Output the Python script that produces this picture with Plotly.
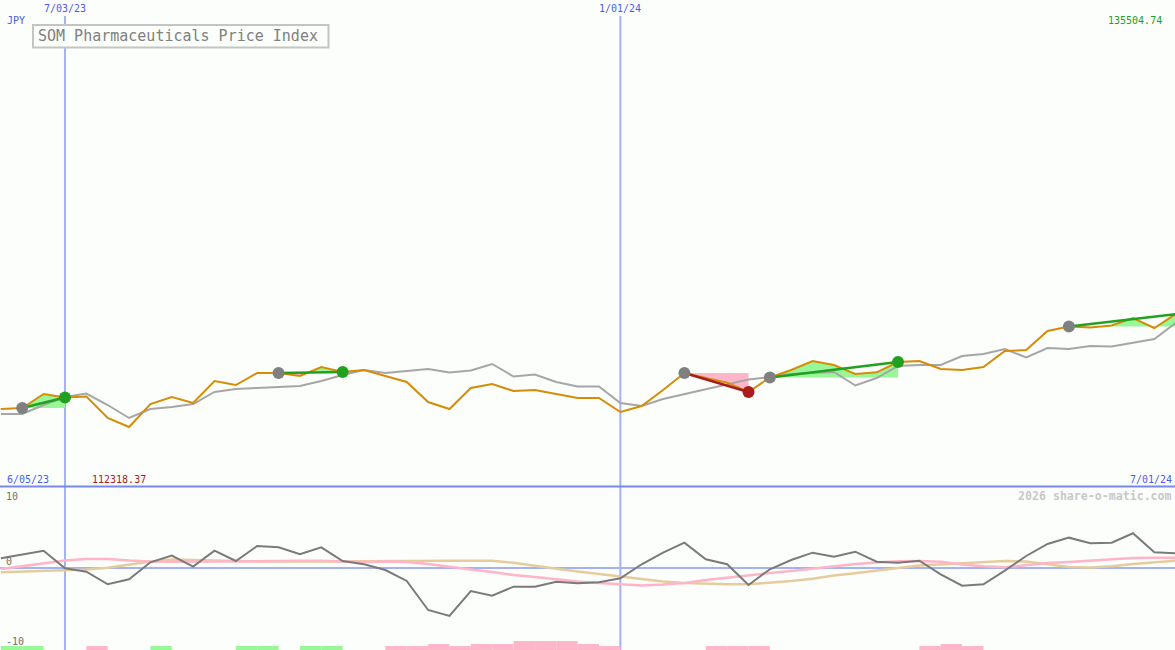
import plotly.graph_objects as go
import pandas as pd

# ---------------- data ----------------
week_start = "2023-06-12"
n_weeks = 56
dates = pd.date_range(week_start, periods=n_weeks, freq="7D")

price = [116016, 116221, 119096, 118377, 118582, 114168, 112318.37, 117043, 118480, 117248,
         121766, 120944, 123409, 123409, 122793, 124641, 123614, 124025, 122793, 121560,
         117454, 116016, 120328, 121150, 119712, 119918, 119096, 118275, 118275, 115400,
         116632, 119918, 123409, 122444, 121417, 119507, 122485, 124025, 125873, 125051,
         123203, 123553, 125667, 125873, 124230, 124025, 124641, 127926, 128131, 132033,
         132957, 132752, 133163, 134703, 132649, 135504.74]

trend = [114990, 114990, 116838, 118480, 119199, 116838, 114168, 116016, 116427, 117043,
         119507, 120123, 120329, 120534, 120739, 121766, 122998, 124025, 123409, 123820,
         124230, 123512, 123923, 125257, 122690, 123101, 121560, 120636, 120636, 117248,
         116632, 118070, 119096, 120123, 121150, 122074, 122588, 123203, 123409, 123614,
         120842, 122382, 124846, 125051, 125051, 126899, 127310, 128337, 126592, 128542,
         128337, 128953, 128850, 129569, 130390, 133675]

osc = [1.49, 2.07, 2.65, -0.05, -0.57, -2.5, -1.73, 0.87, 1.89, 0.2,
       2.65, 1.07, 3.37, 3.17, 2.1, 3.17, 1.07, 0.57, -0.31, -1.99,
       -6.44, -7.36, -3.53, -4.25, -2.87, -2.87, -2.1, -2.35, -2.19, -1.58,
       0.57, 2.35, 3.88, 1.33, 0.57, -2.61, -0.2, 1.23, 2.35, 1.73,
       2.5, 0.97, 0.81, 1.12, -0.97, -2.71, -2.5, -0.41, 1.84, 3.68,
       4.65, 3.79, 3.88, 5.32, 2.41, 2.25]

osc_fast = [-0.15, 0.31, 0.77, 1.15, 1.38, 1.38, 1.15, 1.0, 0.97, 0.97,
            0.97, 0.97, 1.0, 1.07, 1.12, 1.12, 1.0, 0.92, 1.0, 0.92,
            0.61, 0.15, -0.23, -0.61, -1.07, -1.38, -1.73, -2.07, -2.3, -2.5,
            -2.68, -2.53, -2.3, -1.84, -1.46, -1.15, -0.77, -0.46, -0.08, 0.31,
            0.61, 0.84, 1.03, 1.07, 0.97, 0.54, 0.26, 0.11, 0.46, 0.77,
            0.92, 1.15, 1.38, 1.53, 1.58, 1.58]

osc_slow = [-0.66, -0.58, -0.49, -0.38, -0.23, 0.03, 0.54, 1.0, 1.3, 1.26,
            1.15, 1.07, 1.0, 0.97, 0.97, 0.97, 0.98, 1.03, 1.07, 1.12,
            1.12, 1.12, 1.12, 1.12, 0.8, 0.31, -0.12, -0.54, -0.92, -1.3,
            -1.69, -2.07, -2.3, -2.45, -2.5, -2.5, -2.3, -1.99, -1.64, -1.15,
            -0.81, -0.46, 0.0, 0.38, 0.58, 0.77, 0.92, 1.07, 1.0, 0.54,
            0.15, 0.08, 0.26, 0.61, 0.92, 1.12]

# weekly signal strength (positive = green, negative = pink), one per week interval
signal = [4, 4, 0, 0, -4, 0, 0, 4, 0, 0,
          0, 4, 4, 0, 4, 4, 0, 0, -4, -4,
          -6, -4, -6, -6, -9, -9, -9, -6, -4, 0,
          0, 0, 0, -4, -4, -4, 0, 0, 0, 0,
          0, 0, 0, -4, -6, -4, 0, 0, 0, 0,
          0, 0, 0, 0, 0]

trade_entry = [1, 13, 32, 36, 50]
trade_exit = [3, 16, 35, 42, 55]
trade_open = [False, False, False, False, True]

title_text = "SOM Pharmaceuticals Price Index"
currency = "JPY"
vline_dates = ["2023-07-03", "2024-01-01"]
vline_labels = ["7/03/23", "1/01/24"]
start_label = "6/05/23"
end_label = "7/01/24"
osc_labels = ["10", "0", "-10"]
watermark = "2026 share-o-matic.com"

# ---------------- styling ----------------
W, H = 1175, 650
BG = "#fbfefb"
ORANGE = "#d68c06"
GRAY = "#a6a6a6"
DKGRAY = "#7a7a7a"
PINK_L = "#ffb4c8"
TAN_L = "#e6cc9c"
GREEN_F = "#98f898"
PINK_F = "#ffb6c8"
GREEN = "#22a022"
RED = "#a81c1c"
MK_GRAY = "#808080"
BLUE_TXT = "#4c5cf0"
BLUE_V = "#a4b2f2"
BLUE_H = "#7888ee"
FONT = "DejaVu Sans Mono"

split_px = 487
top_dom = [(H - split_px) / H, 1.0]
bot_dom = [0.0, (H - split_px) / H]

def px(x):
    return x / W

def py(y):
    return 1 - y / H

def idx_to_date(i):
    return pd.Timestamp(week_start) + pd.to_timedelta(i * 7, unit="D")

x_range = [pd.Timestamp("2023-06-11 16:55"), pd.Timestamp("2024-06-30 18:29")]

fig = go.Figure()

# trade fills (profit green / loss pink relative to entry price)
for e, x_ in zip(trade_entry, trade_exit):
    base = price[e]
    xs, up, dn = [], [], []
    for k in range(e, x_):
        y0, y1 = price[k], price[k + 1]
        xs.append(k); up.append(max(y0, base)); dn.append(min(y0, base))
        if (y0 - base) * (y1 - base) < 0:
            t = (base - y0) / (y1 - y0)
            xs.append(k + t); up.append(base); dn.append(base)
    xs.append(x_); up.append(max(price[x_], base)); dn.append(min(price[x_], base))
    poly_x = [idx_to_date(v) for v in xs] + [idx_to_date(x_), idx_to_date(e)]
    for curve, col in ((up, GREEN_F), (dn, PINK_F)):
        fig.add_trace(go.Scatter(x=poly_x, y=curve + [base, base], mode="lines",
                                 fill="toself", fillcolor=col, line=dict(width=0),
                                 hoverinfo="skip", showlegend=False))

# trend and price lines
fig.add_trace(go.Scatter(x=dates, y=trend, mode="lines", line=dict(color=GRAY, width=2),
                         showlegend=False, hoverinfo="skip"))
fig.add_trace(go.Scatter(x=dates, y=price, mode="lines", line=dict(color=ORANGE, width=2),
                         showlegend=False, hoverinfo="skip"))

# trade lines and markers
for e, x_, op in zip(trade_entry, trade_exit, trade_open):
    win = price[x_] >= price[e]
    col = GREEN if win else RED
    fig.add_trace(go.Scatter(x=[dates[e], dates[x_]], y=[price[e], price[x_]], mode="lines",
                             line=dict(color=col, width=2.5), showlegend=False, hoverinfo="skip"))
for e, x_, op in zip(trade_entry, trade_exit, trade_open):
    win = price[x_] >= price[e]
    col = GREEN if win else RED
    fig.add_trace(go.Scatter(x=[dates[e]], y=[price[e]], mode="markers",
                             marker=dict(color=MK_GRAY, size=12, line=dict(width=0)),
                             showlegend=False, hoverinfo="skip"))
    if not op:
        fig.add_trace(go.Scatter(x=[dates[x_]], y=[price[x_]], mode="markers",
                                 marker=dict(color=col, size=12, line=dict(width=0)),
                                 showlegend=False, hoverinfo="skip"))

# oscillator panel
fig.add_trace(go.Scatter(x=dates, y=osc_slow, mode="lines", line=dict(color=TAN_L, width=2.5),
                         yaxis="y2", showlegend=False, hoverinfo="skip"))
fig.add_trace(go.Scatter(x=dates, y=osc_fast, mode="lines", line=dict(color=PINK_L, width=2.5),
                         yaxis="y2", showlegend=False, hoverinfo="skip"))
fig.add_trace(go.Scatter(x=dates, y=osc, mode="lines", line=dict(color=DKGRAY, width=2),
                         yaxis="y2", showlegend=False, hoverinfo="skip"))

# signal bars at the bottom
week_ms = 7 * 24 * 3600 * 1000
fig.add_trace(go.Bar(x=list(dates[:-1]), y=[abs(v) for v in signal],
                     marker=dict(color=[GREEN_F if v > 0 else PINK_F for v in signal], line=dict(width=0)),
                     width=week_ms, offset=0, yaxis="y3", showlegend=False, hoverinfo="skip"))

shapes = []
# vertical date lines
for d in vline_dates:
    shapes.append(dict(type="line", xref="x", yref="paper", x0=d, x1=d, y0=0, y1=py(16),
                       line=dict(color=BLUE_V, width=2), layer="below"))
# panel separator
shapes.append(dict(type="line", xref="paper", yref="paper", x0=0, x1=1, y0=py(486.5), y1=py(486.5),
                   line=dict(color=BLUE_H, width=2), layer="above"))
# zero line
shapes.append(dict(type="line", xref="paper", yref="y2", x0=0, x1=1, y0=0, y1=0,
                   line=dict(color=BLUE_V, width=2), layer="below"))
# title box
shapes.append(dict(type="rect", xref="paper", yref="paper", x0=px(33), x1=px(328.5), y0=py(47.5), y1=py(25),
                   line=dict(color="#c4c4c4", width=2), fillcolor=BG, layer="above"))

ann = []
def label(text, x, y, color, size=10, xanchor="left", xref="paper", bold=False):
    ann.append(dict(text=("<b>%s</b>" % text) if bold else text, x=x, y=py(y), xref=xref, yref="paper",
                    xanchor=xanchor, yanchor="middle", showarrow=False,
                    font=dict(family=FONT, size=size, color=color), borderpad=0))

label(currency, px(6), 21, BLUE_TXT)
for d, t in zip(vline_dates, vline_labels):
    label(t, d, 9, BLUE_TXT, xanchor="center", xref="x")
label("%.2f" % max(price), px(1163), 21, GREEN, xanchor="right")
label(start_label, px(6), 479, BLUE_TXT)
label("%.2f" % min(price), px(91), 479, RED)
label(end_label, px(1173), 479, BLUE_TXT, xanchor="right")
label(watermark, px(1173), 496, "#c8c8c8", size=11.6, xanchor="right", bold=True)
label(osc_labels[0], px(5), 496.5, "#707070")
label(osc_labels[1], px(5), 561.5, "#707070")
label(osc_labels[2], px(5), 641.5, "#707070")
label(title_text, px(36.5), 36, "#808080", size=15)

fig.update_layout(
    width=W, height=H, margin=dict(l=0, r=0, t=0, b=0),
    paper_bgcolor=BG, plot_bgcolor=BG, showlegend=False, hovermode=False,
    xaxis=dict(range=x_range, visible=False, showgrid=False, zeroline=False),
    yaxis=dict(domain=top_dom, range=[100000, 200000], visible=False, showgrid=False, zeroline=False),
    yaxis2=dict(domain=bot_dom, range=[-12.58, 12.42], visible=False, showgrid=False, zeroline=False,
                anchor="x"),
    yaxis3=dict(domain=bot_dom, range=[0, 163], visible=False, showgrid=False, zeroline=False,
                overlaying="y2", anchor="x"),
    shapes=shapes, annotations=ann,
)

fig.write_html("out.html", config={"displayModeBar": False},
               post_script="document.body.style.margin='0';document.body.style.background='%s';" % BG)
